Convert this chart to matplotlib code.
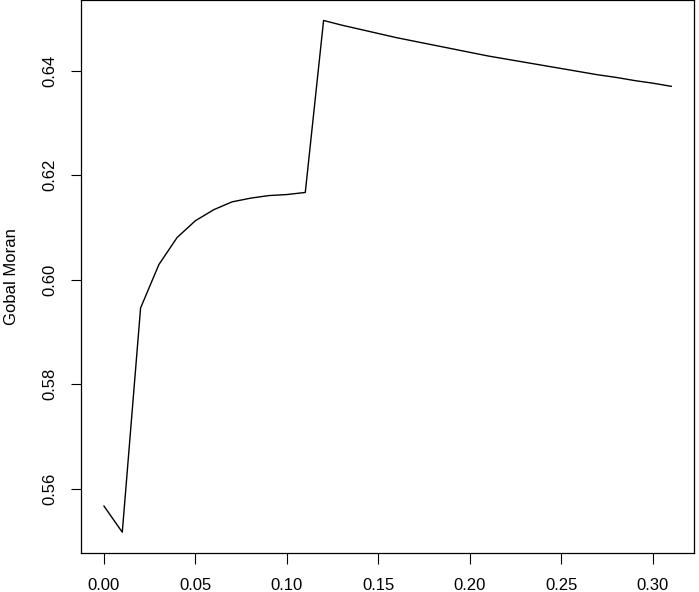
import matplotlib
matplotlib.use("Agg")
import matplotlib.pyplot as plt

# threshold values (x) and Global Moran's I (y)
x_vals = [0.00, 0.01, 0.02, 0.03, 0.04, 0.05, 0.06, 0.07, 0.08, 0.09, 0.10,
          0.11, 0.12, 0.13, 0.14, 0.15, 0.16, 0.17, 0.18, 0.19, 0.20, 0.21,
          0.22, 0.23, 0.24, 0.25, 0.26, 0.27, 0.28, 0.29, 0.30, 0.31]
moran = [0.5567, 0.5517, 0.5946, 0.6029, 0.6081, 0.6113, 0.6134, 0.6149,
         0.6156, 0.6161, 0.6163, 0.6167, 0.6496, 0.6487, 0.6479, 0.6471,
         0.6463, 0.6456, 0.6449, 0.6442, 0.6435, 0.6428, 0.6422, 0.6416,
         0.6410, 0.6404, 0.6398, 0.6392, 0.6387, 0.6381, 0.6376, 0.6370]

x_ticks = [0.00, 0.05, 0.10, 0.15, 0.20, 0.25, 0.30]
x_labels = ["0.00", "0.05", "0.10", "0.15", "0.20", "0.25", "0.30"]
y_ticks = [0.56, 0.58, 0.60, 0.62, 0.64]
y_labels = ["0.56", "0.58", "0.60", "0.62", "0.64"]

plt.rcParams['font.family'] = ['Liberation Sans', 'DejaVu Sans']

fig = plt.figure(figsize=(6.99, 5.92), dpi=100)
ax = fig.add_axes([0.1163, 0.0664, 0.8765, 0.9336])

ax.plot(x_vals, moran, color="black", lw=1.0)

# R-style 4% padding around the data
xr = max(x_vals) - min(x_vals)
yr = max(moran) - min(moran)
ax.set_xlim(min(x_vals) - 0.04 * xr, max(x_vals) + 0.04 * xr)
ax.set_ylim(min(moran) - 0.04 * yr, max(moran) + 0.04 * yr)

ax.set_xticks(x_ticks)
ax.set_xticklabels(x_labels, fontsize=12)
ax.set_yticks(y_ticks)
ax.set_yticklabels(y_labels, fontsize=12, rotation=90, va="center")
ax.tick_params(axis="x", length=8, width=0.8, pad=10)
ax.tick_params(axis="y", length=7, width=0.8, pad=10)

for s in ax.spines.values():
    s.set_linewidth(0.9)

ax.set_ylabel("Gobal Moran", fontsize=12, labelpad=17)

fig.savefig("out.png", dpi=100)
